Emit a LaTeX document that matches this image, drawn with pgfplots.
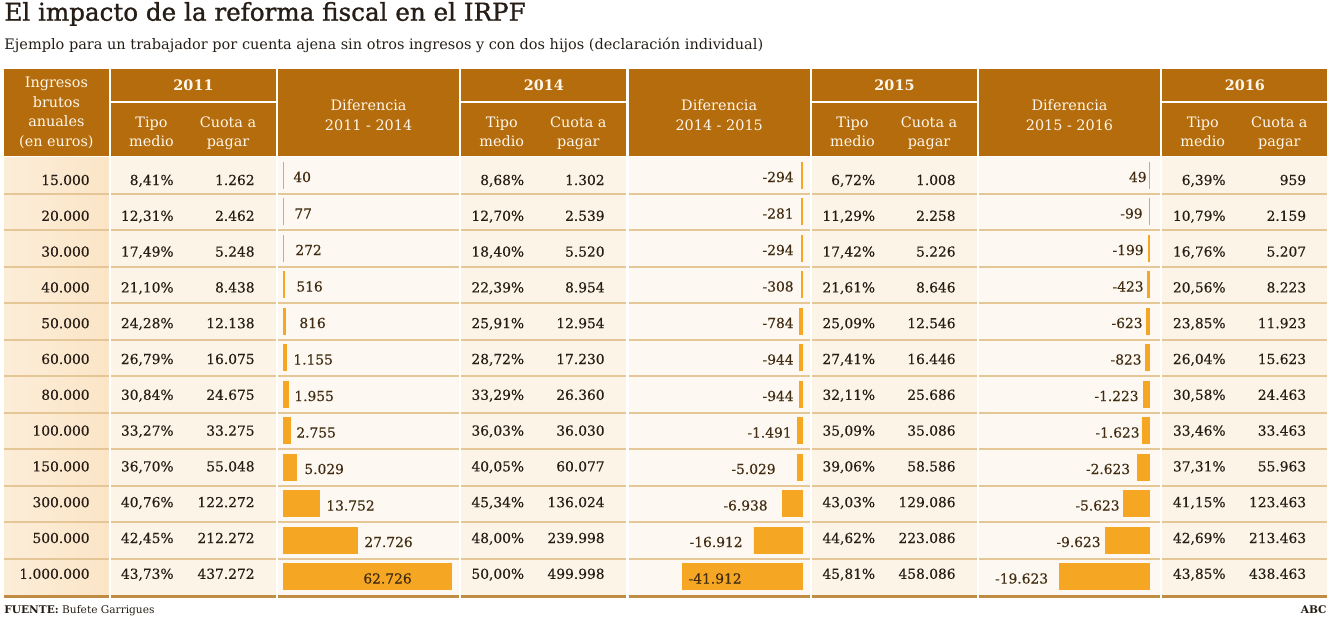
\documentclass[border=0pt]{standalone}
\usepackage{fontspec}
\setmainfont{DejaVu Serif}
\newfontfamily\titlefont[FakeBold=1.2]{DejaVu Serif}
\newfontfamily\numfont[FakeBold=0.35]{DejaVu Serif}
\usepackage{pgfplots}
\usepackage{pgfplotstable}
\pgfplotsset{compat=1.18}
\definecolor{hdr}{RGB}{180,108,12}
\definecolor{hdrtxt}{RGB}{255,247,235}
\definecolor{cream}{RGB}{252,244,231}
\definecolor{creamlt}{RGB}{253,249,242}
\definecolor{peachL}{RGB}{252,237,216}
\definecolor{peachR}{RGB}{251,229,199}
\definecolor{rowline}{RGB}{229,198,150}
\definecolor{botline}{RGB}{192,140,68}
\definecolor{barc}{RGB}{245,166,35}
\definecolor{txt}{RGB}{38,30,22}
\definecolor{txtb}{RGB}{66,45,18}

% Diferencias (euros); b2 = longitud dibujada de la barra 2014-2015
\pgfplotstableread{
i  d1     d2      b2      d3
0  40     -294    -294    49
1  77     -281    -281    -99
2  272    -294    -294    -199
3  516    -308    -308    -423
4  816    -784    -784    -623
5  1155   -944    -944    -823
6  1955   -944    -944    -1223
7  2755   -1491   -1491   -1623
8  5029   -5029   -1620   -2623
9  13752  -6938   -6938   -5623
10 27726  -16912  -16912  -9623
11 62726  -41912  -41912  -19623
}\diffs

\newcommand\bodyf{\numfont\fontsize{6.9pt}{8pt}\selectfont}
\newcommand\hdrf{\fontsize{7.2pt}{8pt}\selectfont}

\begin{document}
\begin{tikzpicture}
\path[use as bounding box] (0pt,0pt) rectangle (665pt,-308.5pt);

\begin{scope}[x=0.5pt,y=-0.5pt]
% titles
\node[anchor=base west,inner sep=0pt,text=txt] at (4,20.7) {\titlefont\fontsize{12.3pt}{14pt}\selectfont El impacto de la reforma fiscal en el IRPF};
\node[anchor=base west,inner sep=0pt,text=txt] at (4,49.3) {\fontsize{7.25pt}{8pt}\selectfont Ejemplo para un trabajador por cuenta ajena sin otros ingresos y con dos hijos (declaración individual)};

% header
\fill[hdr] (4,69.3) rectangle (108.7,155.7);
\foreach \a/\b in {111/276,461.3/625.7,812/976.7,1162.3/1327}{
  \fill[hdr] (\a,69.3) rectangle (\b,100.7);
  \fill[hdr] (\a,103.3) rectangle (\b,155.7);
}
\foreach \a/\b in {278.3/459,628.7/809.7,979/1160}{
  \fill[hdr] (\a,69.3) rectangle (\b,155.7);
}

% body backgrounds
\shade[left color=peachL,right color=peachR] (4,157) rectangle (108.7,595);
\foreach \a/\b in {111/276,461.3/625.7,812/976.7,1162.3/1327}{
  \fill[cream] (\a,157) rectangle (\b,595);
}
\foreach \a/\b in {278.3/459,628.7/809.7,979/1160}{
  \fill[creamlt] (\a,157) rectangle (\b,595);
}
% row lines
\foreach \a/\b in {4/108.7,111/276,278.3/459,461.3/625.7,628.7/809.7,812/976.7,979/1160,1162.3/1327}{
  \foreach \k in {1,...,11}{
    \draw[rowline,line width=1pt] (\a,{157+36.5*\k}) -- (\b,{157+36.5*\k});
  }
  \draw[botline,line width=1.5pt] (\a,596) -- (\b,596);
}
\end{scope}

% bars (pgfplots axes; 1px = 0.5pt)
\begin{axis}[at={(141.5pt,-297.5pt)},anchor=south west,scale only axis,width=85pt,height=219pt,
  xmin=0,xmax=63410,ymin=-0.5,ymax=11.5,y dir=reverse,hide axis,clip=false,
  xbar,bar width=13pt]
\addplot[fill=barc,draw=barc,line width=0.45pt] table[x=d1,y=i]{\diffs};
\end{axis}
\begin{axis}[at={(401pt,-297.5pt)},anchor=south east,scale only axis,width=85pt,height=219pt,
  xmin=-59840,xmax=0,ymin=-0.5,ymax=11.5,y dir=reverse,hide axis,clip=false,
  xbar,bar width=13pt]
\addplot[fill=barc,draw=barc,line width=0.45pt] table[x=b2,y=i]{\diffs};
\end{axis}
\begin{axis}[at={(574.75pt,-297.5pt)},anchor=south east,scale only axis,width=70pt,height=219pt,
  xmin=-30520,xmax=0,ymin=-0.5,ymax=11.5,y dir=reverse,hide axis,clip=false,
  xbar,bar width=13pt]
\addplot[fill=barc,draw=barc,line width=0.45pt] table[x=d3,y=i]{\diffs};
\end{axis}

\begin{scope}[x=0.5pt,y=-0.5pt]
% header texts
\begin{scope}[every node/.style={inner sep=0pt,text=hdrtxt,font=\hdrf}]
\node[anchor=base] at (56.4,87.3) {Ingresos};
\node[anchor=base] at (56.4,107) {brutos};
\node[anchor=base] at (56.4,126.7) {anuales};
\node[anchor=base] at (56.4,146.5) {(en euros)};
\foreach \s/\y in {111/2011,461.3/2014,812/2015,1162.3/2016}{
  \node[anchor=base] at ({\s+82.5},90.7) {\textbf{\y}};
  \node[anchor=base] at ({\s+40.5},127.3) {Tipo};
  \node[anchor=base] at ({\s+40.5},146.7) {medio};
  \node[anchor=base] at ({\s+117},127.3) {Cuota a};
  \node[anchor=base] at ({\s+117},146.7) {pagar};
}
\foreach \c/\t in {368.6/2011 - 2014,719.2/2014 - 2015,1069.5/2015 - 2016}{
  \node[anchor=base] at (\c,110.5) {Diferencia};
  \node[anchor=base] at (\c,130.5) {\t};
}
\end{scope}

% body texts
\begin{scope}[every node/.style={inner sep=0pt,text=txt,font=\bodyf,anchor=base east}]
\foreach \t [count=\i from 0] in {15.000,20.000,30.000,40.000,50.000,60.000,80.000,100.000,150.000,300.000,500.000,1.000.000}
  \node at (90,{185+35.8*\i}) {\t};
\foreach \t [count=\i from 0] in {{8,41\%},{12,31\%},{17,49\%},{21,10\%},{24,28\%},{26,79\%},{30,84\%},{33,27\%},{36,70\%},{40,76\%},{42,45\%},{43,73\%}}
  \node at (174,{185+35.8*\i}) {\t};
\foreach \t [count=\i from 0] in {1.262,2.462,5.248,8.438,12.138,16.075,24.675,33.275,55.048,122.272,212.272,437.272}
  \node at (255,{185+35.8*\i}) {\t};
\foreach \t [count=\i from 0] in {{8,68\%},{12,70\%},{18,40\%},{22,39\%},{25,91\%},{28,72\%},{33,29\%},{36,03\%},{40,05\%},{45,34\%},{48,00\%},{50,00\%}}
  \node at (524.5,{185+35.8*\i}) {\t};
\foreach \t [count=\i from 0] in {1.302,2.539,5.520,8.954,12.954,17.230,26.360,36.030,60.077,136.024,239.998,499.998}
  \node at (605,{185+35.8*\i}) {\t};
\foreach \t [count=\i from 0] in {{6,72\%},{11,29\%},{17,42\%},{21,61\%},{25,09\%},{27,41\%},{32,11\%},{35,09\%},{39,06\%},{43,03\%},{44,62\%},{45,81\%}}
  \node at (875.5,{185+35.8*\i}) {\t};
\foreach \t [count=\i from 0] in {1.008,2.258,5.226,8.646,12.546,16.446,25.686,35.086,58.586,129.086,223.086,458.086}
  \node at (956,{185+35.8*\i}) {\t};
\foreach \t [count=\i from 0] in {{6,39\%},{10,79\%},{16,76\%},{20,56\%},{23,85\%},{26,04\%},{30,58\%},{33,46\%},{37,31\%},{41,15\%},{42,69\%},{43,85\%}}
  \node at (1226,{185+35.8*\i}) {\t};
\foreach \t [count=\i from 0] in {959,2.159,5.207,8.223,11.923,15.623,24.463,33.463,55.963,123.463,213.463,438.463}
  \node at (1306.5,{185+35.8*\i}) {\t};
\end{scope}

% difference labels
\begin{scope}[every node/.style={inner sep=0pt,text=txtb,font=\bodyf}]
\foreach \t/\x [count=\i from 0] in {40/293,77/294,272/295,516/296,816/299,1.155/293,1.955/294,2.755/296,5.029/304,13.752/326,27.726/364,62.726/363}
  \node[anchor=base west] at (\x,{182+36.5*\i}) {\t};
\foreach \t/\x [count=\i from 0] in {-294/794,-281/794,-294/794,-308/794,-784/794,-944/794,-944/794,-1.491/792,-5.029/776,-6.938/768,-16.912/743,-41.912/742}
  \node[anchor=base east] at (\x,{182+36.5*\i}) {\t};
\foreach \t/\x [count=\i from 0] in {49/1147,-99/1143,-199/1144,-423/1144,-623/1143,-823/1142,-1.223/1139,-1.623/1140,-2.623/1130.5,-5.623/1120,-9.623/1101,-19.623/1048.5}
  \node[anchor=base east] at (\x,{182+36.5*\i}) {\t};
\end{scope}

% footer
\node[anchor=base west,inner sep=0pt,text=txt] at (4,613.5) {\fontsize{5.3pt}{6pt}\selectfont\textbf{FUENTE:} Bufete Garrigues};
\node[anchor=base east,inner sep=0pt,text=txt] at (1327,613.5) {\fontsize{5.3pt}{6pt}\selectfont\textbf{ABC}};
\end{scope}
\end{tikzpicture}
\end{document}
